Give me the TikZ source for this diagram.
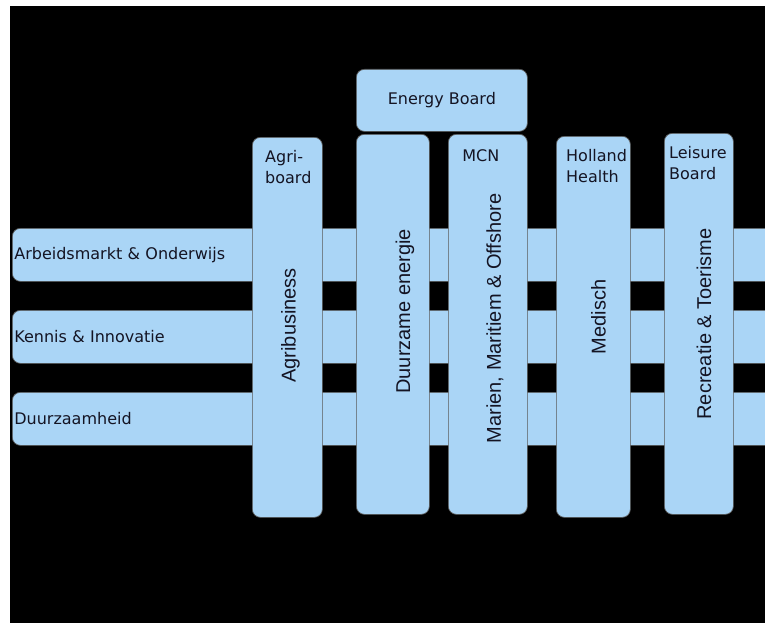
\documentclass[tikz,border=0pt]{standalone}
\usepackage{fontspec}
\setmainfont{DejaVu Sans}
\newfontfamily\rotfont{Liberation Sans}
\definecolor{boxblue}{RGB}{170,213,246}
\definecolor{inkblue}{RGB}{20,20,35}
\tikzset{
  panel/.style={draw=black!65,fill=boxblue,line width=0.7pt,rounded corners=8pt,inner sep=0pt,text=inkblue,font=\fontsize{16}{21}\selectfont},
  hbar/.style={panel,anchor=north west,minimum height=53pt,text width=790pt,align=left,inner xsep=2pt},
  vbox/.style={panel,anchor=north west,minimum height=380pt},
  toplab/.style={anchor=north west,inner sep=0pt,align=left,text=inkblue,font=\fontsize{16}{21}\selectfont},
  sidelab/.style={rotate=90,inner sep=0pt,text=inkblue,font=\rotfont\fontsize{20}{24}\selectfont}
}
\begin{document}
\begin{tikzpicture}[x=1pt,y=-1pt]
\useasboundingbox (0,0) rectangle (765,623);
\fill[black] (10,6) rectangle (765,623);
\clip (0,0) rectangle (765,623);
% thema's
\node[hbar] (arbeidsmarkt) at (12,228) {Arbeidsmarkt \& Onderwijs};
\node[hbar] (kennis) at (12,310) {Kennis \& Innovatie};
\node[hbar] (duurzaamheid) at (12,392) {Duurzaamheid};
% sectoren
\node[vbox,minimum width=70pt] (agri) at (252,137) {};
\node[vbox,minimum width=73pt] (energie) at (356,134) {};
\node[vbox,minimum width=79pt] (mcn) at (448,134) {};
\node[vbox,minimum width=74pt,minimum height=381pt] (medisch) at (556,136) {};
\node[vbox,minimum width=69pt,minimum height=381pt] (recreatie) at (664,133) {};
\node[vbox,minimum width=171pt,minimum height=62pt] (energyboard) at (356,69) {Energy Board};
% boards
\node[toplab] (agrilab) at ([shift={(13,13)}]agri.north west) {Agri-\\board};
\node[toplab,anchor=north] (mcnlab) at ([shift={(-7,15)}]mcn.north) {MCN};
\node[toplab] (healthlab) at ([shift={(10,13)}]medisch.north west) {Holland\\Health};
\node[toplab] (leisurelab) at ([shift={(5,13)}]recreatie.north west) {Leisure\\Board};
% sector labels
\node[sidelab] at ([shift={(3,-2)}]agri.center) {Agribusiness};
\node[sidelab] at ([shift={(12,-13)}]energie.center) {Duurzame energie};
\node[sidelab] at ([shift={(7,-6)}]mcn.center) {Marien, Maritiem \& Offshore};
\node[sidelab] at ([shift={(5,-10)}]medisch.center) {Medisch};
\node[sidelab] at ([shift={(5,0)}]recreatie.center) {Recreatie \& Toerisme};
\end{tikzpicture}
\end{document}
